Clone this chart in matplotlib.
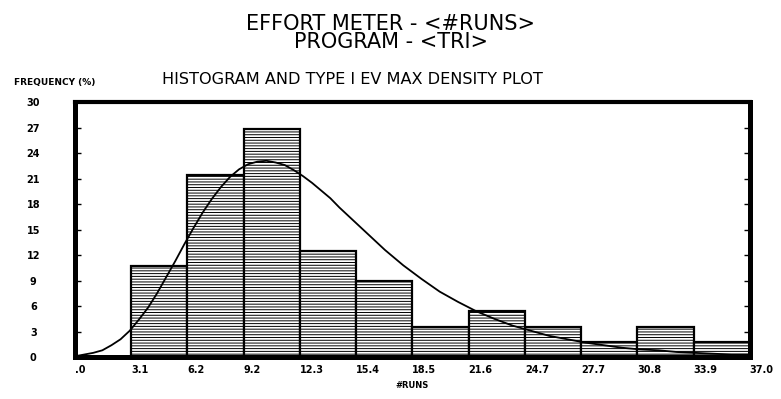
import numpy as np
import matplotlib
matplotlib.use("Agg")
import matplotlib.pyplot as plt

# histogram of #RUNS (percent per class), 12 classes from .0 to 37.0
freq = [0.0, 10.7, 21.4, 26.8, 12.5, 8.9, 3.6, 5.4, 3.6, 1.8, 3.6, 1.8]
edge_labels = ['.0', '3.1', '6.2', '9.2', '12.3', '15.4', '18.5',
               '21.6', '24.7', '27.7', '30.8', '33.9', '37.0']
x_min, x_max = 0.0, 37.0

# type I EV max density curve (percent per class)
curve_x = [0, 0.5, 1, 1.5, 2, 2.5, 3, 3.5, 4, 4.5, 5, 5.5, 6, 6.5, 7, 7.5,
           8, 8.5, 9, 9.5, 10, 10.5, 11, 11.5, 12, 12.5, 13, 13.5, 14, 14.5,
           15, 15.5, 16, 16.5, 17, 17.5, 18, 19, 20, 21, 22, 23, 24, 25, 26,
           27, 28, 29, 30, 31, 32, 33, 34, 35, 36, 37]
curve_y = [0.1, 0.3, 0.5, 0.8, 1.4, 2.1, 3.1, 4.4, 5.8, 7.5, 9.4, 11.3, 13.3,
           15.2, 17.0, 18.6, 20.0, 21.2, 22.1, 22.7, 23.0, 23.1, 22.9, 22.6,
           22.0, 21.3, 20.5, 19.6, 18.7, 17.6, 16.6, 15.6, 14.6, 13.6, 12.6,
           11.7, 10.8, 9.2, 7.7, 6.5, 5.4, 4.5, 3.7, 3.1, 2.5, 2.1, 1.7, 1.4,
           1.1, 0.9, 0.8, 0.6, 0.5, 0.4, 0.3, 0.3]
y_ticks = [0, 3, 6, 9, 12, 15, 18, 21, 24, 27, 30]

plt.rcParams['hatch.linewidth'] = 0.7

fig = plt.figure(figsize=(7.81, 3.99), dpi=100)
ax = fig.add_axes([0.096, 0.105, 0.864, 0.639])

edges = np.linspace(x_min, x_max, len(edge_labels))
widths = np.diff(edges)
ax.bar(edges[:-1], freq, width=widths, align='edge', color='white',
       edgecolor='black', linewidth=1.6, hatch='------', zorder=2)
ax.plot(curve_x, curve_y, color='black', linewidth=1.3, zorder=3)

ax.set_xlim(x_min, x_max)
ax.set_ylim(0, 30)
ax.set_xticks(edges)
ax.set_xticklabels(edge_labels, ha='left', fontsize=7, fontweight='bold')
ax.set_yticks(y_ticks)
ax.set_yticklabels([str(v) for v in y_ticks], ha='center', fontsize=7,
                   fontweight='bold')
ax.tick_params(axis='y', direction='in', length=4, width=1, pad=30,
               right=True)
ax.tick_params(axis='x', direction='in', length=0, pad=6)
for side in ['left', 'right', 'bottom']:
    ax.spines[side].set_linewidth(3.6)
ax.spines['top'].set_linewidth(3.0)

ax.set_xlabel('#RUNS', fontsize=6, fontweight='bold', labelpad=4)

# titles
fig.text(0.5, 0.941, 'EFFORT METER - <#RUNS>', ha='center', va='center',
         fontsize=15)
fig.text(0.5, 0.895, 'PROGRAM - <TRI>', ha='center', va='center',
         fontsize=15)
fig.text(0.207, 0.800, 'HISTOGRAM AND TYPE I EV MAX DENSITY PLOT',
         ha='left', va='center', fontsize=11.6)
fig.text(0.018, 0.793, 'FREQUENCY (%)', ha='left', va='center',
         fontsize=6.5, fontweight='bold')

fig.savefig('out.png', dpi=100)
